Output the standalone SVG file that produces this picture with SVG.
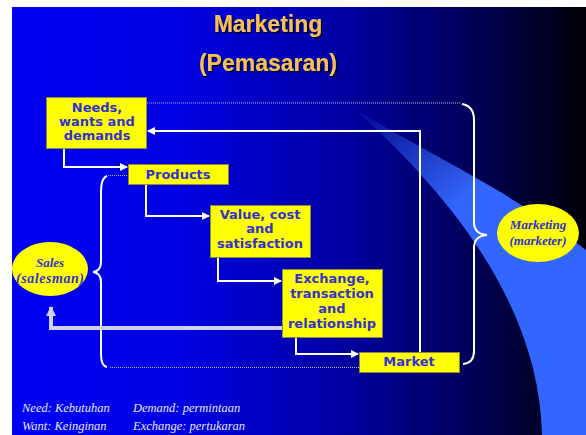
<svg xmlns="http://www.w3.org/2000/svg" width="586" height="435" viewBox="0 0 586 435">
<defs>
<linearGradient id="bg" x1="12" y1="0" x2="586" y2="0" gradientUnits="userSpaceOnUse">
<stop offset="0" stop-color="#0000F5"/>
<stop offset="0.3" stop-color="#0000E0"/>
<stop offset="0.55" stop-color="#0000A8"/>
<stop offset="0.78" stop-color="#000060"/>
<stop offset="1" stop-color="#000008"/>
</linearGradient>
<linearGradient id="beam" x1="353" y1="108" x2="490" y2="260" gradientUnits="userSpaceOnUse">
<stop offset="0" stop-color="#3366FF" stop-opacity="0.05"/>
<stop offset="0.7" stop-color="#3366FF" stop-opacity="1"/>
<stop offset="1" stop-color="#3366FF" stop-opacity="1"/>
</linearGradient>
<filter id="sh" x="-10%" y="-20%" width="120%" height="150%">
<feDropShadow dx="1.5" dy="1.5" stdDeviation="0.5" flood-color="#000022" flood-opacity="1"/>
</filter>
<marker id="ah" viewBox="0 0 8 8" refX="7" refY="4" markerWidth="8" markerHeight="8" markerUnits="userSpaceOnUse" orient="auto">
<path d="M0,0 L8,4 L0,8 Z" fill="#FFFFFF"/>
</marker>
<marker id="ahg" viewBox="0 0 10 10" refX="9" refY="5" markerWidth="10" markerHeight="10" markerUnits="userSpaceOnUse" orient="auto">
<path d="M0,0 L10,5 L0,10 Z" fill="#D0D0F4"/>
</marker>
<style>
.box{fill:#FFFF00;stroke:#8C8C3C;stroke-width:1}
.bt{font-family:"DejaVu Sans",Verdana,sans-serif;font-weight:bold;font-size:13px;fill:#3333CC;text-anchor:middle}
.el{fill:#FFFF00;stroke:none}
.et{font-family:"Liberation Serif","Times New Roman",serif;font-style:italic;font-weight:bold;font-size:13px;fill:#3333CC;text-anchor:middle}
.con{fill:none;stroke:#FFFFFF;stroke-width:2}
.dot{fill:none;stroke:#B0B0FF;stroke-width:1;stroke-dasharray:1 1}
.brace{fill:none;stroke:#FFFFFF;stroke-width:2}
.title{font-family:"Liberation Sans",Arial,sans-serif;font-weight:bold;font-size:23px;fill:#F5C05A;text-anchor:middle;filter:url(#sh)}
.note{font-family:"Liberation Serif","Times New Roman",serif;font-style:italic;font-size:12.5px;fill:#E8E8FF}
</style>
</defs>
<rect x="0" y="0" width="586" height="435" fill="#FFFFFF"/>
<rect x="12" y="7" width="574" height="428" fill="url(#bg)"/>
<path d="M353,108 C420,150 510,190 586,250 L586,435 L542,435 C540,330 480,220 353,108 Z" fill="url(#beam)"/>

<g id="title">
<text class="title" x="268" y="32">Marketing</text>
<text class="title" x="268" y="71">(Pemasaran)</text>
</g>

<g id="connectors">
<path class="dot" d="M147,103 L460,103"/>
<path class="dot" d="M108,175.5 L128,175.5"/>
<path class="dot" d="M110,367.5 L359,367.5"/>
<path class="brace" d="M107,176 Q101,178 101,192 L101,262 Q101,271 93,272 Q101,273 101,282 L101,354 Q101,366 107,367"/>
<path class="brace" d="M462,104 Q474,106 474,120 L474,222 Q474,234 487,235 Q474,236 474,248 L474,351 Q474,363 463,364"/>
<path class="con" d="M64,148 L64,167 L127,167" marker-end="url(#ah)"/>
<path class="con" d="M146,184 L146,216 L209,216" marker-end="url(#ah)"/>
<path class="con" d="M218,257 L218,281 L281,281" marker-end="url(#ah)"/>
<path class="con" d="M296,337 L296,354 L358,354" marker-end="url(#ah)"/>
<path class="con" d="M420,352 L420,131 L148,131" marker-end="url(#ah)"/>
<path fill="none" stroke="#D0D0F4" stroke-width="4" d="M282,328 L51,328 L51,307" marker-end="url(#ahg)"/>
</g>

<g id="needs">
<rect class="box" x="46.5" y="97.5" width="100" height="51"/>
<text class="bt" x="97" y="112">Needs,</text>
<text class="bt" x="97" y="126">wants and</text>
<text class="bt" x="97" y="140">demands</text>
</g>
<g id="products">
<rect class="box" x="128.5" y="164.5" width="100" height="20"/>
<text class="bt" x="178" y="179">Products</text>
</g>
<g id="value">
<rect class="box" x="210.5" y="205.5" width="100" height="52"/>
<text class="bt" x="260" y="219">Value, cost</text>
<text class="bt" x="260" y="233">and</text>
<text class="bt" x="260" y="248">satisfaction</text>
</g>
<g id="exchange">
<rect class="box" x="282.5" y="269.5" width="100" height="68"/>
<text class="bt" x="332" y="283">Exchange,</text>
<text class="bt" x="332" y="298">transaction</text>
<text class="bt" x="332" y="313">and</text>
<text class="bt" x="332" y="328">relationship</text>
</g>
<g id="market">
<rect class="box" x="359.5" y="352.5" width="100" height="20"/>
<text class="bt" x="409" y="366">Market</text>
</g>
<g id="sales">
<ellipse class="el" cx="50" cy="269" rx="38" ry="27"/>
<text class="et" x="50" y="267">Sales</text>
<text class="et" x="50" y="283" style="font-size:14px" textLength="68" lengthAdjust="spacing">(salesman)</text>
</g>
<g id="marketer">
<ellipse class="el" cx="538" cy="233" rx="41" ry="29"/>
<text class="et" x="538" y="229">Marketing</text>
<text class="et" x="538" y="245">(marketer)</text>
</g>
<g id="notes">
<text class="note" x="22" y="412">Need:  Kebutuhan</text>
<text class="note" x="22" y="430">Want:  Keinginan</text>
<text class="note" x="133" y="412">Demand:  permintaan</text>
<text class="note" x="133" y="430">Exchange:  pertukaran</text>
</g>
</svg>
